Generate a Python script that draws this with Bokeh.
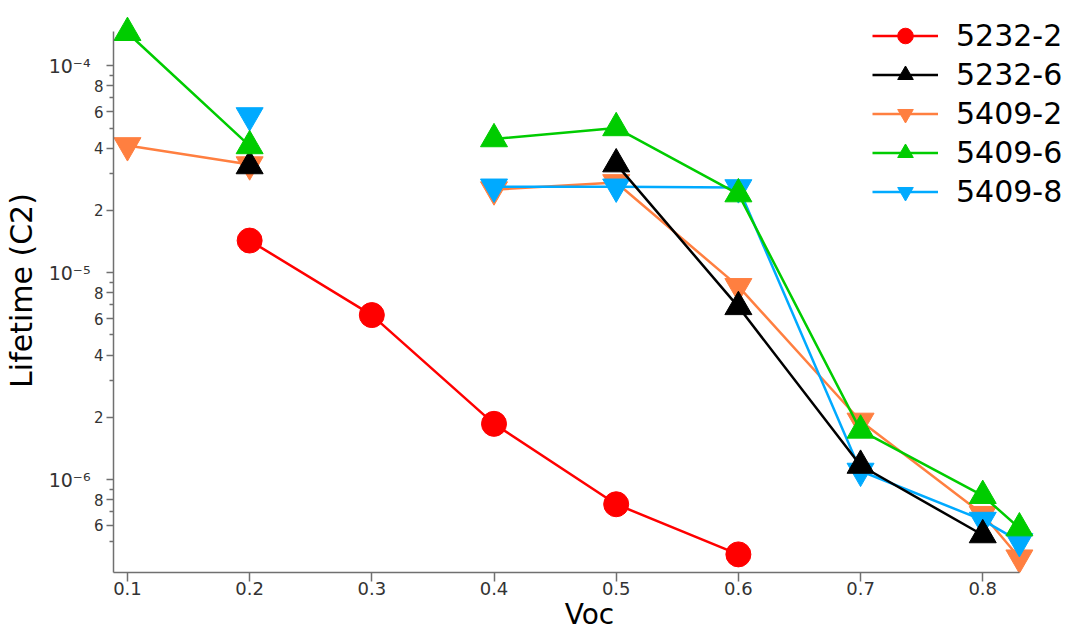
from bokeh.plotting import figure
from bokeh.models import FixedTicker, Legend, LegendItem, Range1d, LogAxis
from bokeh.embed import file_html
from bokeh.resources import INLINE

nan = float("nan")

# ---- data ----
voc = [0.1, 0.2, 0.3, 0.4, 0.5, 0.6, 0.7, 0.8, 0.83]
s5232_2 = [nan, 1.43e-5, 6.24e-6, 1.86e-6, 7.6e-7, 4.35e-7, nan, nan, nan]
s5232_6 = [nan, 3.28e-5, nan, nan, 3.35e-5, 6.84e-6, 1.17e-6, 5.40e-7, nan]
s5409_2 = [4.12e-5, 3.33e-5, nan, 2.52e-5, 2.73e-5, 8.59e-6, 1.92e-6, 6.8e-7, 4.19e-7]
s5409_6 = [1.445e-4, 4.10e-5, nan, 4.43e-5, 5.01e-5, 2.40e-5, 1.73e-6, 8.36e-7, 5.83e-7]
s5409_8 = [nan, 5.75e-5, nan, 2.60e-5, 2.60e-5, 2.58e-5, 1.10e-6, 6.37e-7, 5.03e-7]

x_ticks = [0.1, 0.2, 0.3, 0.4, 0.5, 0.6, 0.7, 0.8]
x_tick_labels = ["0.1", "0.2", "0.3", "0.4", "0.5", "0.6", "0.7", "0.8"]
y_major = [6e-7, 8e-7, 1e-6, 2e-6, 4e-6, 6e-6, 8e-6, 1e-5, 2e-5, 4e-5, 6e-5, 8e-5, 1e-4]
y_major_labels = ["6", "8", "", "2", "4", "6", "8", "", "2", "4", "6", "8", ""]
y_minor = [5e-7, 7e-7, 9e-7, 3e-6, 5e-6, 7e-6, 9e-6, 3e-5, 5e-5, 7e-5, 9e-5]
y_decades = [1e-6, 1e-5, 1e-4]
y_decade_labels = ["10\u207b\u2076", "10\u207b\u2075", "10\u207b\u2074"]

FONT = "DejaVu Sans"
AXIS_GRAY = "#707070"
LABEL_GRAY = "#333333"

x0, x1 = 0.08858, 0.86773
y0, y1 = 3.556e-7, 1.892e-4

p = figure(width=1070, height=633, output_backend="svg", toolbar_location=None,
           y_axis_type="log", x_range=Range1d(x0, x1), y_range=Range1d(y0, y1),
           min_border_left=105, min_border_right=5, min_border_top=8, min_border_bottom=55)
p.outline_line_color = None
p.xgrid.grid_line_color = None
p.ygrid.grid_line_color = None
p.background_fill_color = "white"
p.border_fill_color = "white"

# x axis
xa = p.xaxis[0]
xa.ticker = FixedTicker(ticks=x_ticks, minor_ticks=[])
xa.major_label_overrides = dict(zip(x_ticks, x_tick_labels))
xa.bounds = (x0, 0.83)
xa.axis_line_color = AXIS_GRAY
xa.axis_line_width = 1.5
xa.major_tick_line_color = AXIS_GRAY
xa.major_tick_line_width = 1.5
xa.major_tick_out = 9
xa.major_tick_in = 0
xa.minor_tick_out = 0
xa.minor_tick_in = 0
xa.major_label_text_font = FONT
xa.major_label_text_font_size = "18px"
xa.major_label_text_color = LABEL_GRAY
xa.major_label_standoff = 0
xa.axis_label = "Voc"
xa.axis_label_text_font = FONT
xa.axis_label_text_font_size = "28px"
xa.axis_label_text_font_style = "normal"
xa.axis_label_text_color = "black"
xa.axis_label_standoff = 0

# y axis (mantissa labels)
ya = p.yaxis[0]
ya.ticker = FixedTicker(ticks=y_major, minor_ticks=y_minor)
ya.major_label_overrides = dict(zip(y_major, y_major_labels))
ya.bounds = (y0, 1.462e-4)
ya.axis_line_color = AXIS_GRAY
ya.axis_line_width = 1.5
ya.major_tick_line_color = AXIS_GRAY
ya.major_tick_line_width = 1.5
ya.minor_tick_line_color = AXIS_GRAY
ya.minor_tick_line_width = 1.5
ya.major_tick_out = 7
ya.major_tick_in = 0
ya.minor_tick_out = 4
ya.minor_tick_in = 0
ya.major_label_text_font = FONT
ya.major_label_text_font_size = "15px"
ya.major_label_text_color = LABEL_GRAY
ya.major_label_standoff = 3

# outer y axis carrying the decade labels and the axis title
ya2 = LogAxis(ticker=FixedTicker(ticks=y_decades, minor_ticks=[]),
              major_label_overrides=dict(zip(y_decades, y_decade_labels)),
              bounds=(y0, 1.462e-4))
ya2.axis_line_color = None
ya2.major_tick_line_color = None
ya2.minor_tick_line_color = None
ya2.major_tick_out = 0
ya2.major_tick_in = 0
ya2.minor_tick_out = 0
ya2.minor_tick_in = 0
ya2.major_label_standoff = 0
ya2.major_label_text_font = FONT
ya2.major_label_text_font_size = "19px"
ya2.major_label_text_color = LABEL_GRAY
ya2.axis_label = "Lifetime (C2)"
ya2.axis_label_text_font = FONT
ya2.axis_label_text_font_size = "30px"
ya2.axis_label_text_font_style = "normal"
ya2.axis_label_text_color = "black"
ya2.axis_label_standoff = 7
p.add_layout(ya2, "left")

series = [
    ("5232-2", s5232_2, "#FF0000", "circle", 25),
    ("5232-6", s5232_6, "#000000", "triangle", 27),
    ("5409-2", s5409_2, "#FF7F40", "inverted_triangle", 27),
    ("5409-6", s5409_6, "#00CC00", "triangle", 27),
    ("5409-8", s5409_8, "#00AAFF", "inverted_triangle", 27),
]
draw_order = ["5232-2", "5409-2", "5409-8", "5232-6", "5409-6"]
renderers = {}
lookup = {s[0]: s for s in series}
for name in draw_order:
    _, ys, color, marker, size = lookup[name]
    ln = p.line(voc, ys, line_color=color, line_width=2.5)
    sc = p.scatter(voc, ys, marker=marker, size=size, fill_color=color, line_color=color)
    renderers[name] = [ln, sc]

legend = Legend(items=[LegendItem(label=s[0], renderers=renderers[s[0]]) for s in series],
                location=(759, 361), glyph_width=66, glyph_height=39, spacing=0,
                label_standoff=18, padding=0, margin=0, border_line_color=None,
                background_fill_alpha=0, label_text_font=FONT, label_text_font_size="30px",
                label_text_color="black", label_text_baseline="middle", label_height=39)
p.add_layout(legend)

open("out.html", "w").write(file_html(p, INLINE))
